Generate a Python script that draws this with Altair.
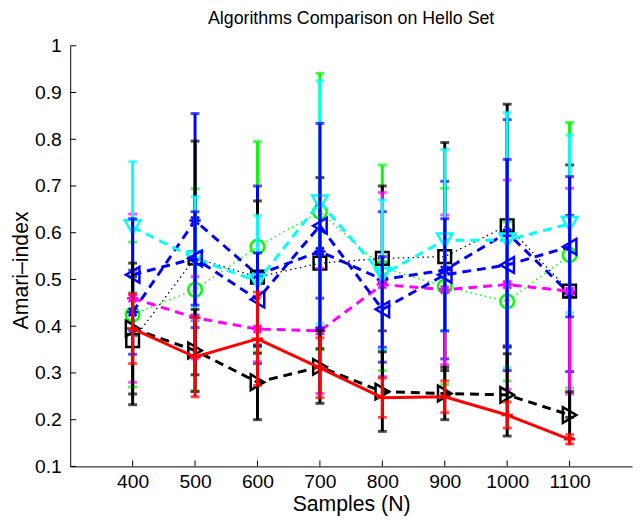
import altair as alt
import pandas as pd

# ---- data ----
N = [400, 500, 600, 700, 800, 900, 1000, 1100]

green_mean = [0.425, 0.478, 0.570, 0.645, 0.525, 0.485, 0.453, 0.552]
green_err = [0.155, 0.216, 0.225, 0.296, 0.220, 0.210, 0.170, 0.284]

blue_star_mean = [0.430, 0.626, 0.510, 0.560, 0.500, 0.520, 0.600, 0.470]
blue_star_err = [0.090, 0.229, 0.190, 0.100, 0.145, 0.190, 0.242, 0.167]

black_sq_mean = [0.369, 0.546, 0.505, 0.535, 0.545, 0.549, 0.615, 0.475]
black_sq_err = [0.137, 0.250, 0.163, 0.183, 0.155, 0.244, 0.260, 0.270]

magenta_mean = [0.460, 0.418, 0.394, 0.390, 0.489, 0.478, 0.489, 0.475]
magenta_err = [0.180, 0.088, 0.070, 0.134, 0.197, 0.160, 0.224, 0.220]

cyan_mean = [0.612, 0.545, 0.496, 0.665, 0.510, 0.584, 0.584, 0.619]
cyan_err = [0.140, 0.132, 0.141, 0.260, 0.160, 0.194, 0.273, 0.190]

blue_lt_mean = [0.510, 0.545, 0.457, 0.615, 0.436, 0.510, 0.531, 0.570]
blue_lt_err = [0.120, 0.100, 0.100, 0.219, 0.113, 0.120, 0.226, 0.150]

black_gt_mean = [0.395, 0.348, 0.280, 0.313, 0.260, 0.256, 0.253, 0.210]
black_gt_err = [0.140, 0.088, 0.080, 0.078, 0.085, 0.056, 0.088, 0.050]

red_mean = [0.395, 0.334, 0.373, 0.311, 0.247, 0.249, 0.210, 0.158]
red_err = [0.075, 0.085, 0.100, 0.064, 0.042, 0.034, 0.028, 0.010]

x_ticks = [400, 500, 600, 700, 800, 900, 1000, 1100]
y_ticks = [0.1, 0.2, 0.3, 0.4, 0.5, 0.6, 0.7, 0.8, 0.9, 1.0]

TITLE = "Algorithms Comparison on Hello Set"
X_TITLE = "Samples (N)"
Y_TITLE = "Amari\u2013index"

# ---- styles ----
PLUS = "M-1,0L1,0M0,-1L0,1"
STAR = "M-1,0L1,0M0,-1L0,1M-0.7,-0.7L0.7,0.7M-0.7,0.7L0.7,-0.7"
DASH = [9, 6]
DOT = [1.5, 3.5]

series = [
    dict(mean=green_mean, err=green_err, color="#00ff00", dash=DOT, lw=1.5, shape="circle", size=190),
    dict(mean=blue_star_mean, err=blue_star_err, color="#0000ff", dash=DASH, lw=3, shape=STAR, size=130),
    dict(mean=black_sq_mean, err=black_sq_err, color="#000000", dash=DOT, lw=1.3, shape="square", size=165),
    dict(mean=magenta_mean, err=magenta_err, color="#ff00ff", dash=DASH, lw=3, shape=STAR, size=130),
    dict(mean=cyan_mean, err=cyan_err, color="#00ffff", dash=DASH, lw=3, shape="triangle-down", size=250),
    dict(mean=blue_lt_mean, err=blue_lt_err, color="#0000ff", dash=DASH, lw=3, shape="triangle-left", size=250),
    dict(mean=black_gt_mean, err=black_gt_err, color="#000000", dash=DASH, lw=3, shape="triangle-right", size=250),
    dict(mean=red_mean, err=red_err, color="#ff0000", dash=None, lw=3, shape=PLUS, size=130),
]

FONT = "Liberation Sans"
W, H = 569, 426

xs = alt.Scale(domain=[300, 1200], nice=False, zero=False)
ys = alt.Scale(domain=[0.1, 1.0], nice=False, zero=False)
xaxis = alt.Axis(values=x_ticks, format="d", title=X_TITLE, ticks=False, grid=False,
                 labelPadding=6, titlePadding=3)
yaxis = alt.Axis(values=y_ticks, format="~g", title=Y_TITLE, ticks=False, grid=False,
                 labelPadding=9, titlePadding=2, titleY=H / 2 + 14)


def X(field):
    return alt.X(f"{field}:Q", scale=xs, axis=xaxis)


def Y(field):
    return alt.Y(f"{field}:Q", scale=ys, axis=yaxis)


layers = []
for s in series:
    df = pd.DataFrame({
        "x": N,
        "y": s["mean"],
        "lo": [m - e for m, e in zip(s["mean"], s["err"])],
        "hi": [m + e for m, e in zip(s["mean"], s["err"])],
    })
    base = alt.Chart(df)
    layers.append(base.mark_rule(color=s["color"], strokeWidth=3).encode(x=X("x"), y=Y("lo"), y2="hi"))
    layers.append(base.mark_tick(color=s["color"], orient="horizontal", size=9, thickness=3)
                  .encode(x=X("x"), y=Y("hi")))
    layers.append(base.mark_tick(color=s["color"], orient="horizontal", size=9, thickness=3)
                  .encode(x=X("x"), y=Y("lo")))
    line_kw = dict(color=s["color"], strokeWidth=s["lw"])
    if s["dash"]:
        line_kw["strokeDash"] = s["dash"]
    layers.append(base.mark_line(**line_kw).encode(x=X("x"), y=Y("y")))
    layers.append(base.mark_point(shape=s["shape"], filled=False, color=s["color"], size=s["size"],
                                  strokeWidth=2.5, opacity=1).encode(x=X("x"), y=Y("y")))

# inward ticks like MATLAB
yt = pd.DataFrame({"t": y_ticks})
xt = pd.DataFrame({"t": x_ticks})
layers.append(alt.Chart(yt).mark_rule(color="black", strokeWidth=1)
              .encode(y=Y("t"), x=alt.value(0), x2=alt.value(6)))
layers.append(alt.Chart(xt).mark_rule(color="black", strokeWidth=1)
              .encode(x=X("t"), y=alt.value(H), y2=alt.value(H - 6)))

chart = alt.layer(*layers).properties(
    width=W, height=H,
    title=alt.TitleParams(TITLE, font=FONT, fontSize=18, fontWeight="normal", color="black",
                          anchor="middle", offset=8, frame="group"),
    autosize=alt.AutoSizeParams(type="none"),
    padding={"left": 63, "top": 35, "right": 3, "bottom": 50},
).configure_view(stroke=None).configure_axis(
    domainColor="black", domainWidth=1,
    labelFont=FONT, labelFontSize=19.5, labelColor="black",
    titleFont=FONT, titleFontSize=21.5, titleFontWeight="normal", titleColor="black",
)

chart.save("out.html", embed_options={"renderer": "svg", "actions": False})
